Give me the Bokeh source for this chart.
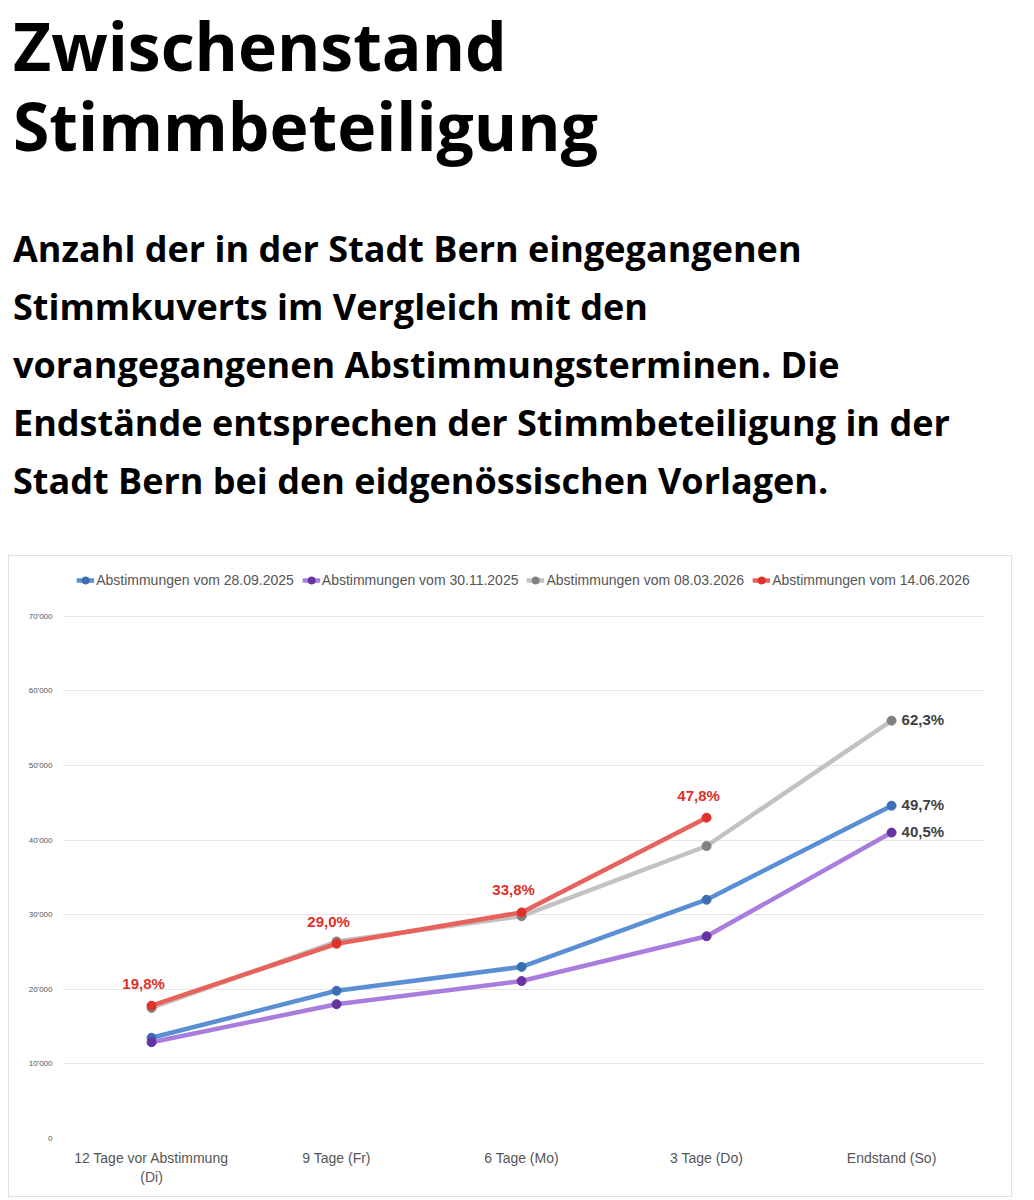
from bokeh.plotting import figure
from bokeh.models import Div, Legend, LegendItem, ColumnDataSource, Label
from bokeh.layouts import column
from bokeh.embed import file_html
from bokeh.resources import INLINE

categories = ["12 Tage vor Abstimmung\n(Di)", "9 Tage (Fr)", "6 Tage (Mo)", "3 Tage (Do)", "Endstand (So)"]
s_0925 = [13500, 19800, 23000, 32000, 44600]
s_1125 = [12900, 18000, 21100, 27100, 41000]
s_0326 = [17500, 26400, 29800, 39200, 56000]
s_0626 = [17800, 26100, 30300, 43000]
red_pct = ["19,8%", "29,0%", "33,8%", "47,8%"]
end_pct = {"s_0326": "62,3%", "s_0925": "49,7%", "s_1125": "40,5%"}
y_ticks = [0, 10000, 20000, 30000, 40000, 50000, 60000, 70000]

FONT = "Open Sans"
title = Div(text="Zwischenstand<br>Stimmbeteiligung", width=1010, height=170,
            styles={"font-family": FONT, "font-weight": "700", "font-size": "66px",
                    "line-height": "80px", "color": "#000"})
sub = Div(text="Anzahl der in der Stadt Bern eingegangenen Stimmkuverts im Vergleich mit den "
               "vorangegangenen Abstimmungsterminen. Die Endstände entsprechen der Stimmbeteiligung "
               "in der Stadt Bern bei den eidgenössischen Vorlagen.",
          width=960, height=330,
          styles={"font-family": FONT, "font-weight": "700", "font-size": "36px",
                  "line-height": "58px", "color": "#000", "margin-top": "40px"})

p = figure(width=1002, height=640, output_backend="svg", toolbar_location=None,
           x_range=(-0.476, 4.497), y_range=(0, 78000),
           min_border_left=54, min_border_right=28, min_border_bottom=58, min_border_top=0)
p.outline_line_color = None
p.border_fill_color = "white"
p.xgrid.grid_line_color = None
p.ygrid.grid_line_color = "#e6e6e6"
p.yaxis.ticker = y_ticks
p.yaxis.major_label_overrides = {v: (f"{v//1000}'000" if v else "0") for v in y_ticks}
p.xaxis.ticker = list(range(len(categories)))
p.xaxis.major_label_overrides = {i: c for i, c in enumerate(categories)}
for ax in (p.xaxis, p.yaxis):
    ax.axis_line_color = None
    ax.major_tick_line_color = None
    ax.minor_tick_line_color = None
p.yaxis.major_label_text_font_size = "8px"
p.yaxis.major_label_text_color = "#555"
p.xaxis.major_label_text_font_size = "14px"
p.xaxis.major_label_text_color = "#555"
p.xaxis.major_label_text_font = "Liberation Sans"
p.yaxis.major_label_text_font = "Liberation Sans"

series = [("Abstimmungen vom 28.09.2025", s_0925, "#5b8fd3", "#3d6db3"),
          ("Abstimmungen vom 30.11.2025", s_1125, "#a97ddd", "#6633a0"),
          ("Abstimmungen vom 08.03.2026", s_0326, "#c2c2c2", "#808080"),
          ("Abstimmungen vom 14.06.2026", s_0626, "#e8625c", "#e0302a")]
items = []
for name, vals, lc, mc in series:
    xs = list(range(len(vals)))
    src = ColumnDataSource(dict(x=xs, y=vals))
    l = p.line("x", "y", source=src, line_color=lc, line_width=4.5)
    s = p.scatter("x", "y", source=src, size=9, fill_color=mc, line_color=mc)
    items.append(LegendItem(label=name, renderers=[l, s]))

legend = Legend(items=items, orientation="horizontal", border_line_color=None,
                background_fill_alpha=0, location="top_center",
                label_text_font="Liberation Sans", label_text_font_size="14px",
                label_text_color="#555", glyph_width=18, spacing=8, padding=2,
                label_standoff=2, margin=14)
p.add_layout(legend)

for i, t in enumerate(red_pct):
    p.add_layout(Label(x=i, y=s_0626[i], text=t, x_offset=-8, y_offset=14,
                       text_align="center", text_font="Liberation Sans", text_font_style="bold",
                       text_font_size="15px", text_color="#e0302a"))
for vals, key in ((s_0326, "s_0326"), (s_0925, "s_0925"), (s_1125, "s_1125")):
    p.add_layout(Label(x=4, y=vals[4], text=end_pct[key], x_offset=10, y_offset=-7,
                       text_font="Liberation Sans", text_font_style="bold",
                       text_font_size="15px", text_color="#404040"))

chart = column(p, styles={"border": "1px solid #e0e0e0"})
page = column(title, sub, chart, styles={"margin-left": "8px"})
open("out.html", "w").write(file_html(page, INLINE))
